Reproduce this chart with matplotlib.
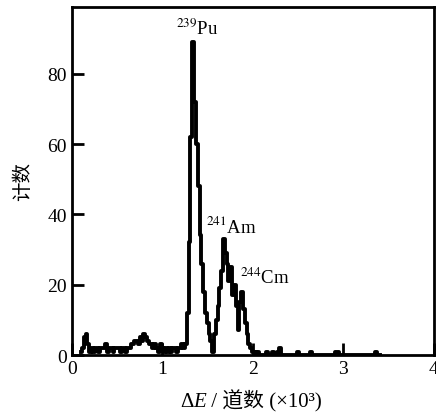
import numpy as np
import matplotlib
matplotlib.use("Agg")
import matplotlib.pyplot as plt

plt.rcParams['font.family'] = ['Liberation Serif', 'Noto Sans CJK SC', 'DejaVu Sans']
plt.rcParams['mathtext.fontset'] = 'stix'

# channel data (x in units of 10^3 channels)
channel_start = 0.10
channel_width = 0.02
counts = [
    1, 2, 5, 6, 3, 1, 2, 1, 2, 2,   # 0.10-0.28
    1, 2, 2, 2, 3, 1, 2, 2, 1, 2,   # 0.30-0.48
    2, 2, 1, 2, 2, 1, 2, 2, 3, 3,   # 0.50-0.68
    4, 4, 3, 5, 4, 6, 5, 4, 3, 3,   # 0.70-0.88
    2, 3, 2, 1, 3, 2, 1, 2, 1, 2,   # 0.90-1.08
    1, 2, 2, 1, 2, 2, 3, 2, 3, 12,  # 1.10-1.28
    32, 62, 89, 72, 60, 48, 34, 26, 18, 12,  # 1.30-1.48
    9, 6, 4, 1, 6, 10, 14, 19, 24, 33,       # 1.50-1.68
    29, 26, 21, 25, 17, 20, 14, 7, 15, 18,   # 1.70-1.88
    13, 9, 6, 3, 2, 1, 1, 0, 1, 0,           # 1.90-2.08
    0, 0, 0, 1, 0, 0, 1, 0, 0, 1,            # 2.10-2.28
    2, 0, 0, 0, 0, 0, 0, 0, 0, 0,            # 2.30-2.48
    1, 0, 0, 0, 0, 0, 0, 1, 0, 0,            # 2.50-2.68
    0, 0, 0, 0, 0, 0, 0, 0, 0, 0,            # 2.70-2.88
    0, 1, 1, 0, 0, 0, 0, 0, 0, 0,            # 2.90-3.08
    0, 0, 0, 0, 0, 0, 0, 0, 0, 0,            # 3.10-3.28
    0, 0, 0, 1, 0, 0,                        # 3.30-3.40
]
x = channel_start + channel_width * np.arange(len(counts))

peak_labels = [r'$^{239}$Pu', r'$^{241}$Am', r'$^{244}$Cm']
peak_label_x = [1.39, 1.76, 2.13]
peak_label_y = [93, 36.8, 22.2]

fig = plt.figure(figsize=(4.36, 4.14), dpi=100)
ax = fig.add_axes([0.165, 0.140, 0.830, 0.841])
ax.step(x, counts, where='mid', color='black', lw=2.8)

for t, lx, ly in zip(peak_labels, peak_label_x, peak_label_y):
    ax.text(lx, ly, t, ha='center', va='center', fontsize=13.5)

ax.set_xlim(0, 4)
ax.set_ylim(0, 99)
ax.set_xticks([0, 1, 2, 3, 4])
ax.set_yticks([0, 20, 40, 60, 80])
ax.tick_params(direction='in', length=8.5, width=2, labelsize=14,
               top=False, right=False)
for s in ax.spines.values():
    s.set_linewidth(2)
ax.set_ylabel('计数', fontsize=14, labelpad=11)

# x label built from pieces: Δ, italic E, rest
fs = 15
t1 = fig.text(0.413, 0.004, 'Δ', fontsize=fs, ha='left', va='bottom')
t2 = ax.annotate('E', xy=(1, 0), xycoords=t1, ha='left', va='bottom',
                 fontsize=fs, style='italic', annotation_clip=False)
t3 = ax.annotate(' / 道数 (×10³)', xy=(1, 0), xycoords=t2, ha='left',
                 va='bottom', fontsize=fs, annotation_clip=False)

fig.savefig('out.png', dpi=100)
